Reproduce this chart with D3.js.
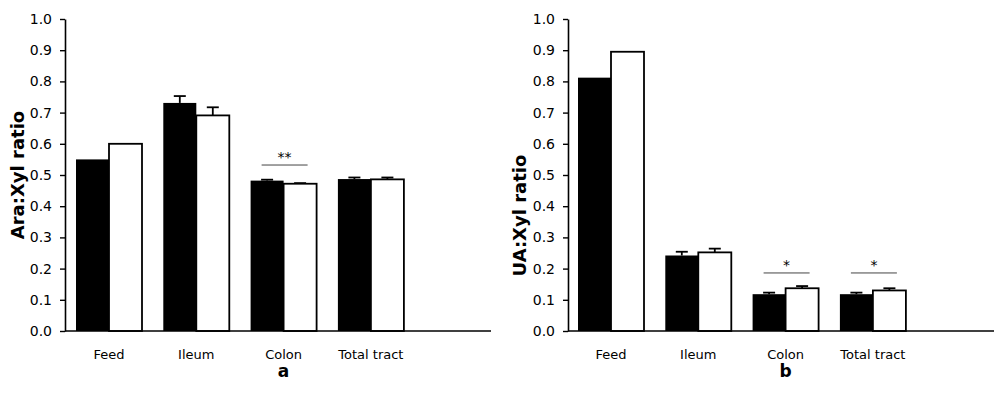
<!DOCTYPE html>
<html>
<head>
<meta charset="utf-8">
<script src="https://cdn.jsdelivr.net/npm/d3@7"></script>
<style>
  html, body { margin: 0; padding: 0; background: #fff; }
  svg { display: block; }
  text { font-family: "DejaVu Sans", Verdana, sans-serif; fill: #000; }
</style>
</head>
<body>
<svg id="chart" width="995" height="402"></svg>
<script>
// Segments along the gut
const categories = ["Feed", "Ileum", "Colon", "Total tract"];
const yTicks = [0, 0.1, 0.2, 0.3, 0.4, 0.5, 0.6, 0.7, 0.8, 0.9, 1.0];

// Panel a: arabinose to xylose ratio (black = diet 1, white = diet 2)
const araBlack = [0.55, 0.731, 0.482, 0.487];
const araBlackErr = [0, 0.022, 0.003, 0.005];
const araWhite = [0.60, 0.691, 0.472, 0.486];
const araWhiteErr = [0, 0.026, 0.002, 0.006];
const araSig = [{ cat: "Colon", y: 0.532, label: "**" }];

// Panel b: uronic acid to xylose ratio
const uaBlack = [0.812, 0.242, 0.118, 0.118];
const uaBlackErr = [0, 0.012, 0.005, 0.005];
const uaWhite = [0.895, 0.252, 0.137, 0.130];
const uaWhiteErr = [0, 0.012, 0.007, 0.007];
const uaSig = [
  { cat: "Colon", y: 0.186, label: "*" },
  { cat: "Total tract", y: 0.186, label: "*" }
];

const svg = d3.select("#chart");

const yTop = 19, yBottom = 331;
const axisLen = 426;
const step = 87.3;
const barW = 33;

function panel(opts) {
  const g = svg.append("g");
  const x0 = opts.axisX;

  const y = d3.scaleLinear().domain([0, 1]).range([yBottom, yTop]);
  const x = d3.scalePoint()
    .domain(categories)
    .range([x0 + opts.firstOffset, x0 + opts.firstOffset + step * (categories.length - 1)]);

  // Bars: black series left of the category centre, white series right of it
  categories.forEach((c, i) => {
    const cx = x(c);
    g.append("rect")
      .attr("x", cx - barW).attr("y", y(opts.black[i]))
      .attr("width", barW).attr("height", y(0) - y(opts.black[i]))
      .attr("fill", "#000");
    g.append("rect")
      .attr("x", cx).attr("y", y(opts.white[i]))
      .attr("width", barW).attr("height", y(0) - y(opts.white[i]))
      .attr("fill", "#fff").attr("stroke", "#000").attr("stroke-width", 1.8);

    // Upper error bars with caps
    [[cx - barW / 2, opts.black[i], opts.blackErr[i]],
     [cx + barW / 2, opts.white[i], opts.whiteErr[i]]].forEach(([ex, v, e]) => {
      if (!e) return;
      g.append("line")
        .attr("x1", ex).attr("x2", ex).attr("y1", y(v)).attr("y2", y(v + e))
        .attr("stroke", "#000").attr("stroke-width", 1.8);
      g.append("line")
        .attr("x1", ex - 6).attr("x2", ex + 6).attr("y1", y(v + e)).attr("y2", y(v + e))
        .attr("stroke", "#000").attr("stroke-width", 1.8);
    });
  });

  // Significance markers
  opts.sig.forEach(s => {
    const cx = x(s.cat) + 1;
    g.append("line")
      .attr("x1", cx - 23).attr("x2", cx + 23)
      .attr("y1", y(s.y)).attr("y2", y(s.y))
      .attr("stroke", "#444").attr("stroke-width", 1);
    g.append("text")
      .attr("x", cx).attr("y", y(s.y) - 3)
      .attr("text-anchor", "middle")
      .attr("font-size", 14)
      .text(s.label);
  });

  // Y axis
  const yAxis = d3.axisLeft(y).tickValues(yTicks).tickFormat(d3.format(".1f"))
    .tickSize(5).tickSizeOuter(0).tickPadding(8);
  const ya = g.append("g").attr("transform", `translate(${x0},0)`).call(yAxis);
  ya.select(".domain").attr("stroke", "#000").attr("stroke-width", 1.6);
  ya.selectAll(".tick line").attr("stroke", "#000").attr("stroke-width", 1.4);
  ya.selectAll(".tick text").attr("font-size", 14).attr("font-family", "DejaVu Sans").attr("fill", "#000");

  // X axis baseline
  g.append("line")
    .attr("x1", x0).attr("x2", x0 + axisLen)
    .attr("y1", y(0)).attr("y2", y(0))
    .attr("stroke", "#000").attr("stroke-width", 1.6);

  // Category labels
  categories.forEach(c => {
    g.append("text")
      .attr("x", x(c)).attr("y", yBottom + 28)
      .attr("text-anchor", "middle")
      .attr("font-size", 13)
      .text(c);
  });

  // Panel letter
  g.append("text")
    .attr("x", x("Colon")).attr("y", yBottom + 46)
    .attr("text-anchor", "middle")
    .attr("font-size", 17).attr("font-weight", "bold")
    .text(opts.letter);

  // Y axis title
  const ty = y(opts.titleAt);
  g.append("text")
    .attr("transform", `translate(${opts.titleX},${ty}) rotate(-90)`)
    .attr("text-anchor", "middle")
    .attr("dominant-baseline", "central")
    .attr("font-size", 18).attr("font-weight", "bold")
    .text(opts.title);
}

panel({
  axisX: 65, firstOffset: 44,
  black: araBlack, blackErr: araBlackErr,
  white: araWhite, whiteErr: araWhiteErr,
  sig: araSig, letter: "a",
  title: "Ara:Xyl ratio", titleX: 17, titleAt: 0.5
});

panel({
  axisX: 568, firstOffset: 43,
  black: uaBlack, blackErr: uaBlackErr,
  white: uaWhite, whiteErr: uaWhiteErr,
  sig: uaSig, letter: "b",
  title: "UA:Xyl ratio", titleX: 519, titleAt: 0.37
});
</script>
</body>
</html>
